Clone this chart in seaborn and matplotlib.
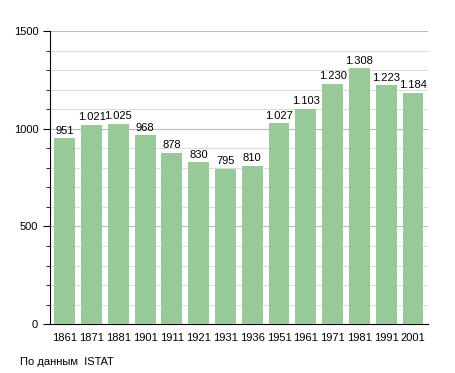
import pandas as pd
import seaborn as sns
import matplotlib.pyplot as plt
from matplotlib.ticker import MultipleLocator

# Data
years = ['1861', '1871', '1881', '1901', '1911', '1921', '1931', '1936',
         '1951', '1961', '1971', '1981', '1991', '2001']
population = [951, 1021, 1025, 968, 878, 830, 795, 810,
              1027, 1103, 1230, 1308, 1223, 1184]
source_note = 'По данным  ISTAT'

df = pd.DataFrame({'year': years, 'pop': population})

sns.set_style('white')
plt.rcParams['font.family'] = ['Liberation Sans', 'DejaVu Sans']
plt.rcParams['text.color'] = 'black'
plt.rcParams['xtick.color'] = 'black'
plt.rcParams['ytick.color'] = 'black'

fig = plt.figure(figsize=(4.55, 3.73), dpi=100)
ax = fig.add_axes([0.11, 0.131, 0.83, 0.786])

sns.barplot(data=df, x='year', y='pop', color='#98c998', saturation=1,
            width=0.78, linewidth=0, edgecolor='none', ax=ax, zorder=3)

# Value labels with Italian thousand separator
for i, v in enumerate(population):
    lbl = f'{v:,}'.replace(',', '.')
    ax.text(i, v + 12, lbl, ha='center', va='bottom', fontsize=8)

ax.set_ylim(0, 1500)
ax.set_xlim(-0.55, len(years) - 0.45)
ax.yaxis.set_major_locator(MultipleLocator(500))
ax.yaxis.set_minor_locator(MultipleLocator(100))
ax.grid(axis='y', which='minor', color='#dddddd', linewidth=0.8, zorder=0)
ax.grid(axis='y', which='major', color='#bbbbbb', linewidth=0.8, zorder=0)

ax.set_xlabel('')
ax.set_ylabel('')
for s in ['top', 'right']:
    ax.spines[s].set_visible(False)
ax.spines['left'].set_color('black')
ax.spines['bottom'].set_color('black')
ax.tick_params(axis='y', which='major', left=True, length=5, labelsize=8, color='black')
ax.tick_params(axis='y', which='minor', left=True, length=3, color='black')
ax.tick_params(axis='x', bottom=False, labelsize=8, pad=3)

fig.text(0.044, 0.03, source_note, fontsize=8, ha='left', va='center')

fig.savefig('out.png', dpi=100)
